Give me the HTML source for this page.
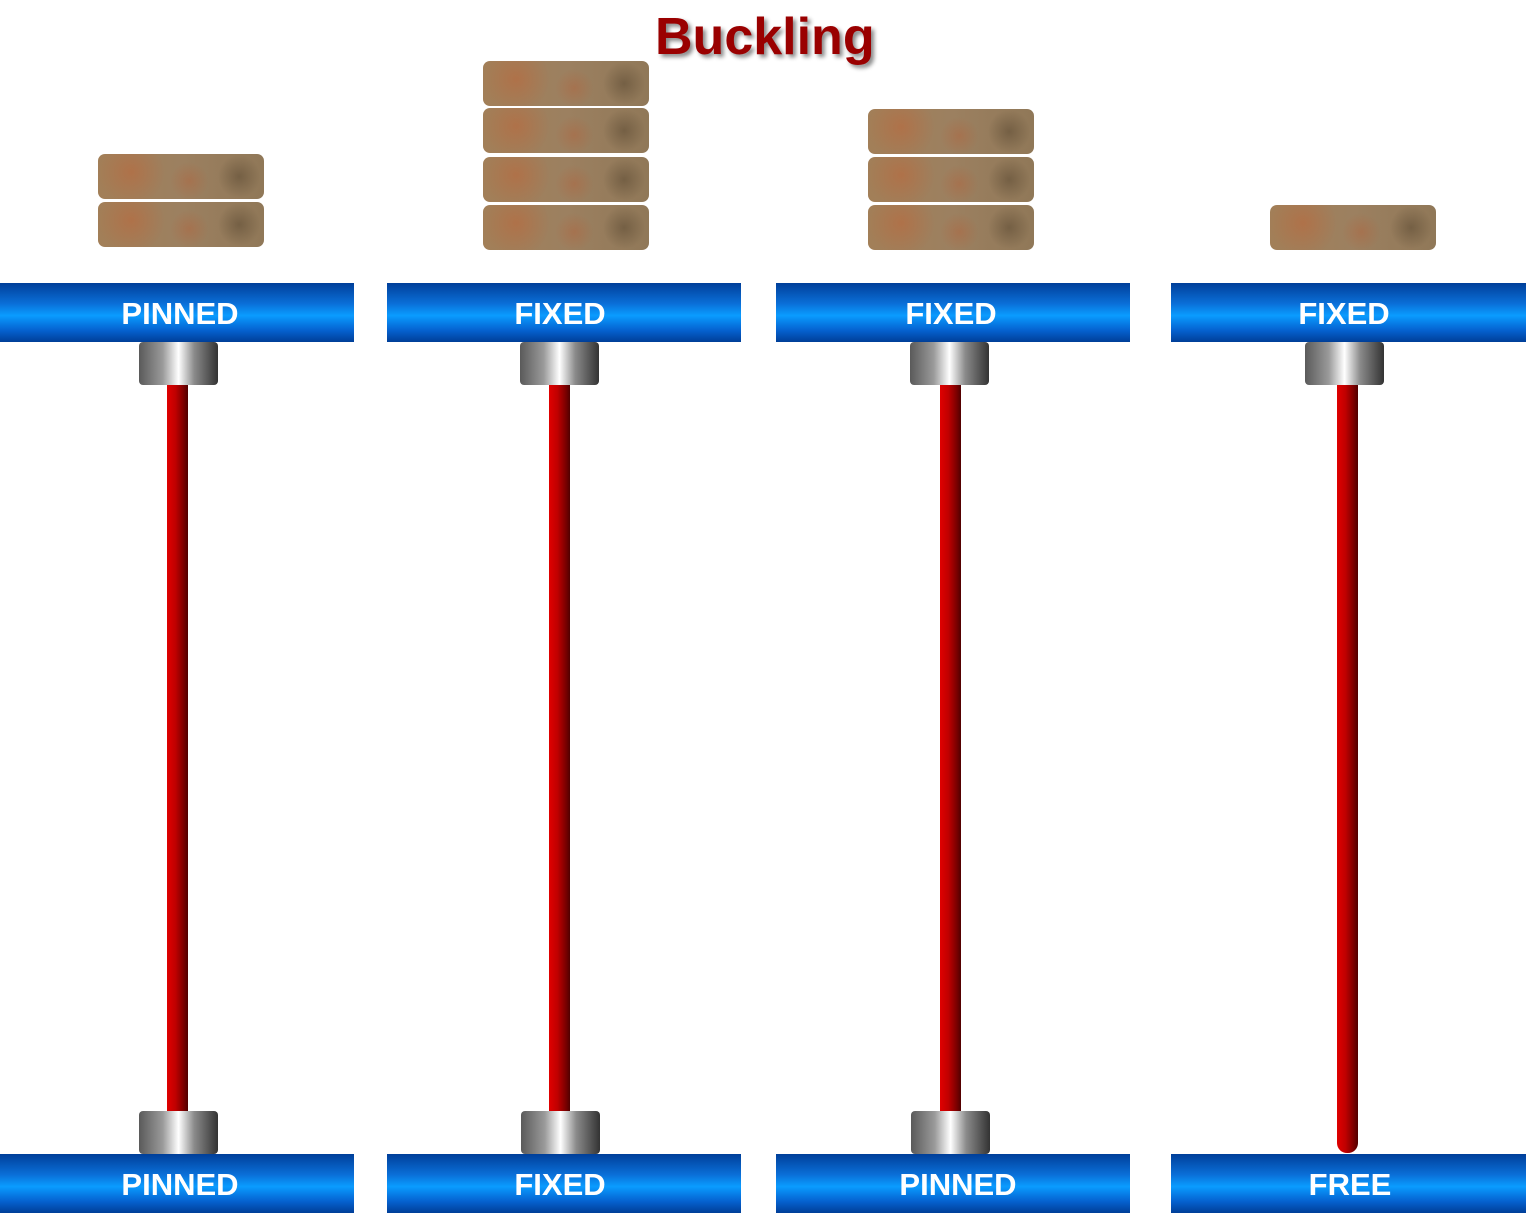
<!DOCTYPE html>
<html><head><style>
body{margin:0;width:1526px;height:1213px;background:#fff;position:relative;overflow:hidden;font-family:"Liberation Sans",sans-serif}
.b{position:absolute;height:59px;background:linear-gradient(#003f9a 0%,#0a6fd8 35%,#0a9cff 55%,#0562d0 80%,#003e98 100%);}
.t{position:absolute;color:#fff;font-weight:bold;font-size:31px;transform:translateX(-50%);white-space:nowrap;line-height:59px}
.c{position:absolute;width:79px;height:43px;background:linear-gradient(90deg,#5a5a5a 0%,#9a9a9a 30%,#fff 50%,#8a8a8a 70%,#333 100%);border-radius:4px}
.r{position:absolute;width:21px;background:linear-gradient(90deg,#e00000 0%,#c00000 40%,#7a0000 80%,#500000 100%)}
.k{position:absolute;width:166px;height:45px;border-radius:7px;background:
radial-gradient(circle at 20% 40%,rgba(190,100,55,.5),transparent 25%),
radial-gradient(circle at 55% 60%,rgba(180,95,55,.4),transparent 20%),
radial-gradient(circle at 85% 50%,rgba(70,55,35,.4),transparent 15%),
linear-gradient(90deg,#a27f58,#9c8060 50%,#907858);}
</style></head><body>
<div style="position:absolute;left:655px;top:7px;font-size:52px;font-weight:bold;color:#9a0000;text-shadow:3px 3px 4px #888">Buckling</div>

<div class="k" style="left:98px;top:154px"></div><div class="k" style="left:98px;top:202px"></div>
<div class="k" style="left:483px;top:61px"></div><div class="k" style="left:483px;top:108px"></div><div class="k" style="left:483px;top:157px"></div><div class="k" style="left:483px;top:205px"></div>
<div class="k" style="left:868px;top:109px"></div><div class="k" style="left:868px;top:157px"></div><div class="k" style="left:868px;top:205px"></div>
<div class="k" style="left:1270px;top:205px"></div>

<div class="r" style="left:167px;top:384px;height:728px"></div>
<div class="r" style="left:549px;top:384px;height:728px"></div>
<div class="r" style="left:940px;top:384px;height:728px"></div>
<div class="r" style="left:1337px;top:384px;height:769px;border-radius:0 0 10px 10px"></div>

<div class="c" style="left:139px;top:342px"></div>
<div class="c" style="left:520px;top:342px"></div>
<div class="c" style="left:910px;top:342px"></div>
<div class="c" style="left:1305px;top:342px"></div>
<div class="c" style="left:139px;top:1111px"></div>
<div class="c" style="left:521px;top:1111px"></div>
<div class="c" style="left:911px;top:1111px"></div>

<div class="b" style="left:0;width:354px;top:283px"></div>
<div class="b" style="left:387px;width:354px;top:283px"></div>
<div class="b" style="left:776px;width:354px;top:283px"></div>
<div class="b" style="left:1171px;width:355px;top:283px"></div>
<div class="b" style="left:0;width:354px;top:1154px"></div>
<div class="b" style="left:387px;width:354px;top:1154px"></div>
<div class="b" style="left:776px;width:354px;top:1154px"></div>
<div class="b" style="left:1171px;width:355px;top:1154px"></div>

<div class="t" style="left:180px;top:284px">PINNED</div>
<div class="t" style="left:560px;top:284px">FIXED</div>
<div class="t" style="left:951px;top:284px">FIXED</div>
<div class="t" style="left:1344px;top:284px">FIXED</div>
<div class="t" style="left:180px;top:1155px">PINNED</div>
<div class="t" style="left:560px;top:1155px">FIXED</div>
<div class="t" style="left:958px;top:1155px">PINNED</div>
<div class="t" style="left:1350px;top:1155px">FREE</div>
</body></html>
